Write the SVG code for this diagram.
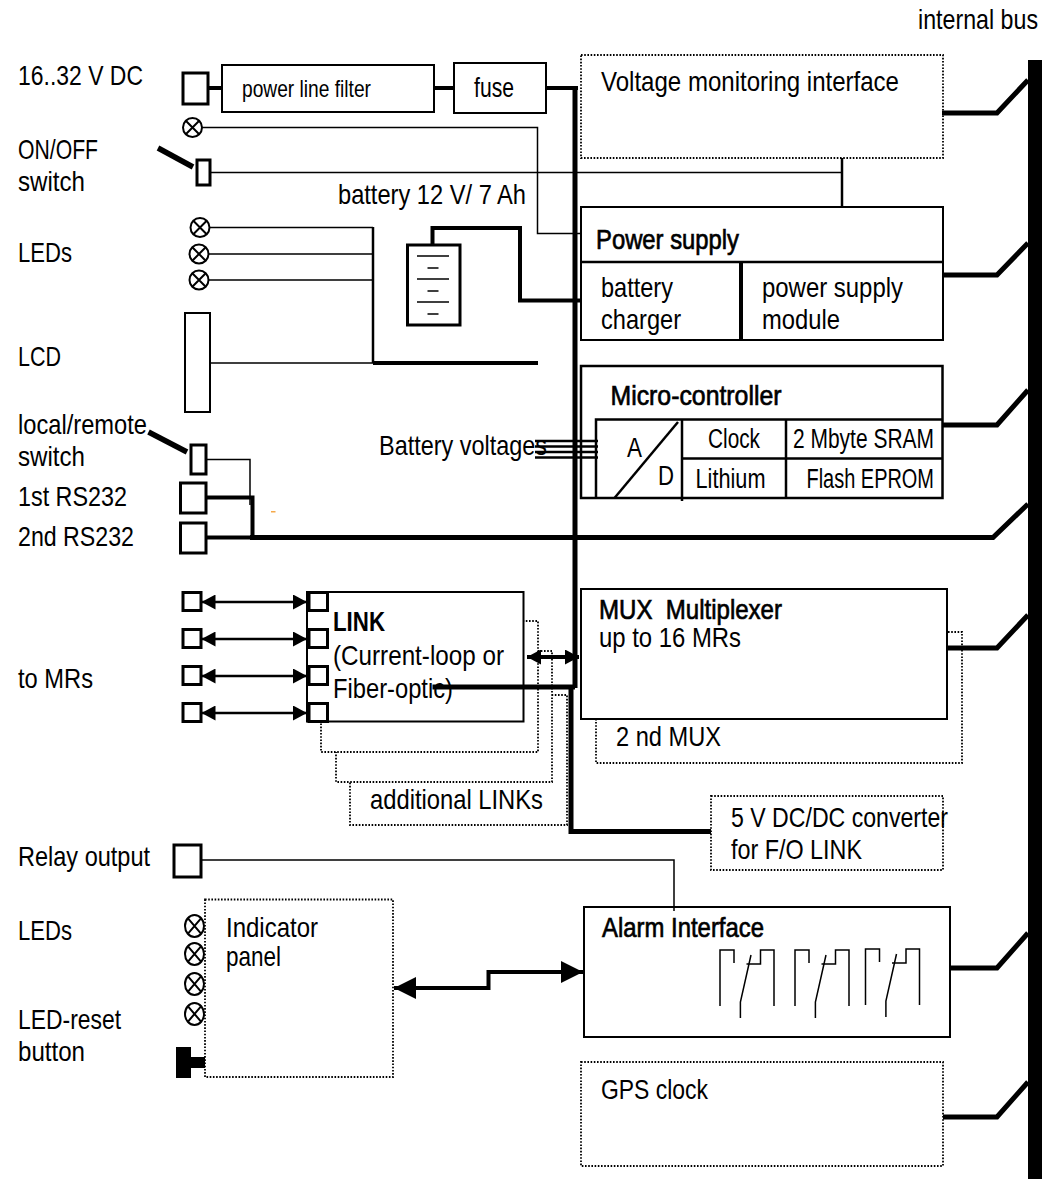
<svg xmlns="http://www.w3.org/2000/svg" width="1047" height="1179" viewBox="0 0 1047 1179">
<defs>
<marker id="ah" viewBox="0 0 10 10" refX="10" refY="5" markerWidth="14" markerHeight="15" markerUnits="userSpaceOnUse" orient="auto-start-reverse" preserveAspectRatio="none"><path d="M0 0L10 5L0 10Z" fill="#000"/></marker>
<marker id="ahb" viewBox="0 0 10 10" refX="10" refY="5" markerWidth="22" markerHeight="22" markerUnits="userSpaceOnUse" orient="auto-start-reverse" preserveAspectRatio="none"><path d="M0 0L10 5L0 10Z" fill="#000"/></marker>
<g id="led"><circle r="9.500" fill="#fff" stroke="#000" stroke-width="2"/><path d="M-6.700-6.700L6.700 6.700M-6.700 6.700L6.700-6.700" stroke="#000" stroke-width="2" fill="none"/></g>
<g id="led-tall"><ellipse rx="9.500" ry="11" fill="#fff" stroke="#000" stroke-width="2"/><path d="M-6.700-7.800L6.700 7.800M-6.700 7.800L6.700-7.800" stroke="#000" stroke-width="2" fill="none"/></g>
<g id="relay" fill="none" stroke="#000" stroke-width="1.500"><path d="M720 1006V950H734V963"/><path d="M774 1006V950H760.500V964H746.500"/><path d="M751 955L740.400 1002V1018"/></g>
</defs>
<style>
text{font-family:"Liberation Sans",Arial,sans-serif;font-size:28.5px;fill:#000}
.s{font-size:24px}
.m{font-size:27px}
.b{stroke:#000;stroke-width:.7}
.box{fill:#fff;stroke:#000;stroke-width:2}
.t{fill:#fff;stroke:#000;stroke-width:3}
.dot{fill:#fff;stroke:#000;stroke-width:1.800;stroke-dasharray:1.600 1.600}
.w1{fill:none;stroke:#000;stroke-width:1.500}
.w2{fill:none;stroke:#000;stroke-width:2.500}
.w3{fill:none;stroke:#000;stroke-width:4}
.w5{fill:none;stroke:#000;stroke-width:5}
</style>
<g id="labels">
<text transform="translate(918 29) scale(.86 1)" class="m">internal bus</text>
<text x="18" y="85" textLength="125" lengthAdjust="spacingAndGlyphs">16..32 V DC</text>
<text x="18" y="159" textLength="80" lengthAdjust="spacingAndGlyphs">ON/OFF</text>
<text x="18" y="191" textLength="67" lengthAdjust="spacingAndGlyphs">switch</text>
<text x="338" y="204" textLength="188" lengthAdjust="spacingAndGlyphs">battery 12 V/ 7 Ah</text>
<text x="18" y="262" textLength="54" lengthAdjust="spacingAndGlyphs">LEDs</text>
<text x="18" y="366" textLength="43" lengthAdjust="spacingAndGlyphs">LCD</text>
<text x="18" y="434" textLength="129" lengthAdjust="spacingAndGlyphs">local/remote</text>
<text x="18" y="466" textLength="67" lengthAdjust="spacingAndGlyphs">switch</text>
<text x="18" y="506" textLength="109" lengthAdjust="spacingAndGlyphs">1st RS232</text>
<text x="18" y="546" textLength="116" lengthAdjust="spacingAndGlyphs">2nd RS232</text>
<text x="379" y="455" textLength="168" lengthAdjust="spacingAndGlyphs">Battery voltages</text>
<text x="18" y="688" textLength="75" lengthAdjust="spacingAndGlyphs">to MRs</text>
<text x="18" y="866" textLength="132" lengthAdjust="spacingAndGlyphs">Relay output</text>
<text x="18" y="940" textLength="54" lengthAdjust="spacingAndGlyphs">LEDs</text>
<text x="18" y="1029" textLength="103" lengthAdjust="spacingAndGlyphs">LED-reset</text>
<text x="18" y="1061" textLength="67" lengthAdjust="spacingAndGlyphs">button</text>
<rect x="271" y="511" width="4.500" height="1.500" fill="#f5a94a"/>
</g>
<g id="dotted-links">
<rect class="dot" x="350" y="695" width="217" height="130"/>
<rect class="dot" x="336" y="651" width="216" height="131"/>
<rect class="dot" x="321" y="621" width="217" height="131"/>
<text x="370" y="809" textLength="173" lengthAdjust="spacingAndGlyphs">additional LINKs</text>
</g>
<g id="bus"><rect x="1028" y="60" width="14" height="1121" fill="#000"/></g>
<g id="dc-input"><rect class="t" x="183" y="73" width="25" height="31"/></g>
<g id="filter"><rect class="box" x="222" y="65" width="212" height="47"/><text x="242" y="97" class="s" textLength="129" lengthAdjust="spacingAndGlyphs">power line filter</text></g>
<g id="fuse"><rect class="box" x="454" y="63" width="92" height="50"/><text x="474" y="97" class="m" textLength="40" lengthAdjust="spacingAndGlyphs">fuse</text></g>
<g id="voltage-monitoring"><rect class="dot" x="581" y="55" width="362" height="103"/><text x="601" y="91" textLength="298" lengthAdjust="spacingAndGlyphs">Voltage monitoring interface</text></g>
<g id="led-power"><use href="#led" x="192.500" y="127.500"/></g>
<g id="onoff-switch"><path d="M158 148L193 167" stroke="#000" stroke-width="5.500"/><rect class="t" x="197" y="160" width="13" height="25"/></g>
<g id="leds-top"><use href="#led" x="200" y="227.500"/><use href="#led" x="199" y="254"/><use href="#led" x="199" y="280"/></g>
<g id="lcd"><rect class="box" x="185" y="313" width="25" height="99"/></g>
<g id="battery"><rect class="t" x="407.500" y="245" width="52.500" height="80"/><path d="M417 256H449M427.500 268H438.500M417 279H449M427.500 291H438.500M417 302H449M427.500 314H438.500" stroke="#000" stroke-width="1.500" fill="none"/></g>
<g id="power-supply"><rect class="box" x="581" y="207" width="362" height="133"/><path d="M581 262H943" class="w2"/><path d="M741 262V340" class="w3"/>
<text x="596" y="249" class="b" textLength="143" lengthAdjust="spacingAndGlyphs">Power supply</text>
<text x="601" y="297" textLength="72" lengthAdjust="spacingAndGlyphs">battery</text>
<text x="601" y="329" textLength="80" lengthAdjust="spacingAndGlyphs">charger</text>
<text x="762" y="297" textLength="141" lengthAdjust="spacingAndGlyphs">power supply</text>
<text x="762" y="329" textLength="78" lengthAdjust="spacingAndGlyphs">module</text></g>
<g id="micro-controller"><rect class="w2" x="581" y="366" width="361.500" height="132"/>
<path class="w2" d="M596 498V419.500H942M682 419.500V501M786 419.500V498M682 458.500H942"/>
<path class="w2" d="M678 422L614.500 498"/>
<text x="610.500" y="405" class="b" textLength="171" lengthAdjust="spacingAndGlyphs">Micro-controller</text>
<text x="627" y="457" textLength="15" lengthAdjust="spacingAndGlyphs">A</text>
<text x="658" y="485" textLength="16" lengthAdjust="spacingAndGlyphs">D</text>
<text x="708" y="448" class="m" textLength="52" lengthAdjust="spacingAndGlyphs">Clock</text>
<text x="793" y="448" class="m" textLength="141" lengthAdjust="spacingAndGlyphs">2 Mbyte SRAM</text>
<text x="695.500" y="488" class="m" textLength="70" lengthAdjust="spacingAndGlyphs">Lithium</text>
<text x="806.500" y="488" class="m" textLength="127.500" lengthAdjust="spacingAndGlyphs">Flash EPROM</text></g>
<g id="local-remote-switch"><path d="M148.500 432L187 452" stroke="#000" stroke-width="5.500"/><rect class="t" x="191" y="445" width="15" height="29"/></g>
<g id="rs232-1"><rect class="t" x="180.500" y="483" width="25.500" height="30"/></g>
<g id="rs232-2"><rect class="t" x="180.500" y="523" width="25.500" height="30"/></g>
<g id="mr-ports"><rect class="t" x="183" y="592.500" width="18" height="18"/><rect class="t" x="183" y="629.500" width="18" height="18"/><rect class="t" x="183" y="666.500" width="18" height="18"/><rect class="t" x="183" y="703.500" width="18" height="18"/></g>
<g id="link"><rect class="box" x="307" y="592" width="216.500" height="129.500"/>
<rect class="t" x="309" y="592.500" width="18.500" height="18"/><rect class="t" x="309" y="629.500" width="18.500" height="18"/><rect class="t" x="309" y="666.500" width="18.500" height="18"/><rect class="t" x="309" y="703.500" width="18.500" height="18"/>
<text x="333" y="631" font-weight="bold" textLength="52" lengthAdjust="spacingAndGlyphs">LINK</text>
<text x="333" y="665" textLength="171" lengthAdjust="spacingAndGlyphs">(Current-loop or</text>
<text x="333" y="698" textLength="120" lengthAdjust="spacingAndGlyphs">Fiber-optic)</text></g>
<g id="mux-2"><rect class="dot" x="596" y="632" width="366" height="131"/><text x="616" y="746" textLength="105" lengthAdjust="spacingAndGlyphs">2 nd MUX</text></g>
<g id="mux"><rect class="box" x="581" y="589" width="366" height="130"/>
<text x="599" y="619" class="b" xml:space="preserve" textLength="183" lengthAdjust="spacingAndGlyphs">MUX  Multiplexer</text>
<text x="599" y="647" textLength="142" lengthAdjust="spacingAndGlyphs">up to 16 MRs</text></g>
<g id="dc-dc"><rect class="dot" x="711" y="796" width="232" height="74"/><text x="731" y="827" textLength="217" lengthAdjust="spacingAndGlyphs">5 V DC/DC converter</text><text x="731" y="859" textLength="131" lengthAdjust="spacingAndGlyphs">for F/O LINK</text></g>
<g id="relay-output"><rect class="t" x="174" y="845" width="27" height="32"/></g>
<g id="indicator-panel"><rect class="dot" x="205" y="899.500" width="188" height="177.500"/>
<text x="226" y="937" textLength="92" lengthAdjust="spacingAndGlyphs">Indicator</text><text x="226" y="966" textLength="55" lengthAdjust="spacingAndGlyphs">panel</text>
<use href="#led-tall" x="194.500" y="926"/><use href="#led-tall" x="194.500" y="954"/><use href="#led-tall" x="194.500" y="984"/><use href="#led-tall" x="194.500" y="1014"/>
<path d="M176 1047H191V1057H205V1068H191V1078H176Z" fill="#000"/></g>
<g id="alarm-interface"><rect class="box" x="584" y="907" width="366" height="130"/>
<text x="602" y="937" class="b" textLength="162" lengthAdjust="spacingAndGlyphs">Alarm Interface</text>
<use href="#relay"/><use href="#relay" x="75"/><use href="#relay" x="145.500" y="-1"/></g>
<g id="gps-clock"><rect class="dot" x="581" y="1062" width="362" height="104"/><text x="601" y="1099" textLength="107" lengthAdjust="spacingAndGlyphs">GPS clock</text></g>
<g id="connectors">
<path class="w3" d="M208 88H221M434 88H454M546 88H578"/>
<path class="w1" d="M202 127.500H537.500V233.500H581"/>
<path class="w1" d="M210 172.500H842"/>
<path class="w2" d="M842 158V207"/>
<path class="w1" d="M210 227.500H373M209 254H373M209 280H373M210 363H373"/>
<path class="w2" d="M373 227V363"/>
<path class="w3" d="M373 363H538"/>
<path class="w3" d="M432.500 245V228H520V300.500H581"/>
<path class="w1" d="M206 459.500H250V505"/>
<path class="w3" d="M206 497.500H252.500V537.500"/>
<path class="w3" d="M206 537.500H250"/>
<path class="w5" d="M250 537.500H993L1028 504"/>
<path class="w5" d="M575 88V688"/>
<path class="w5" d="M432.500 687H575"/>
<path class="w5" d="M571 687V831.500H711"/>
<path class="w2" d="M535 441H598M535 446.500H598M535 452H598M535 457.500H598"/>
<path class="w2" d="M201.500 602H307" marker-start="url(#ah)" marker-end="url(#ah)"/>
<path class="w2" d="M201.500 639H307" marker-start="url(#ah)" marker-end="url(#ah)"/>
<path class="w2" d="M201.500 676H307" marker-start="url(#ah)" marker-end="url(#ah)"/>
<path class="w2" d="M201.500 713H307" marker-start="url(#ah)" marker-end="url(#ah)"/>
<path class="w3" d="M527 657H579" marker-start="url(#ah)" marker-end="url(#ah)"/>
<path class="w1" d="M201 860H674V911"/>
<path class="w3" d="M394 988H488.500V972H583" marker-start="url(#ahb)" marker-end="url(#ahb)"/>
<path class="w5" d="M942 113H997L1028 80M943 275H997L1028 243M942 425H997L1028 390M947 648H997L1028 615M950 968H997L1028 933M943 1117H997L1028 1082"/>
</g>
</svg>
